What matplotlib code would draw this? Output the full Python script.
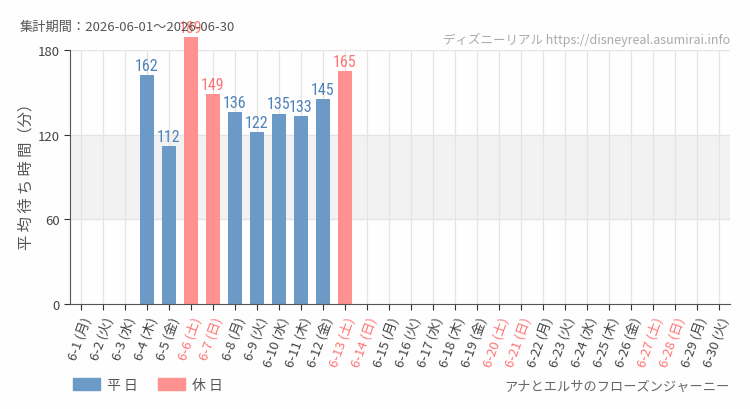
import numpy as np
import matplotlib
matplotlib.use("Agg")
from matplotlib import pyplot as plt
from matplotlib.patches import Patch
from matplotlib import font_manager

plt.rcParams['font.family'] = ['Noto Sans CJK JP', 'DejaVu Sans']

# data
days = list(range(1, 31))
weekdays = ['月', '火', '水', '木', '金', '土', '日']
waits = [None, None, None, 162, 112, 189, 149, 136, 122, 135, 133, 145, 165] + [None] * 17
holidays = [6, 7, 13, 14, 20, 21, 27, 28]
labels = ['6-%d (%s)' % (d, weekdays[(d - 1) % 7]) for d in days]

c_week = '#6b9ac6'
c_hol = '#ff9191'
c_week_txt = '#4f82b8'
c_hol_txt = '#ff7575'

names = {f.name for f in font_manager.fontManager.ttflist}
narrow = 'DejaVu Sans'
for cand in ['Roboto Condensed', 'Open Sans Condensed', 'Liberation Sans Narrow']:
    if cand in names:
        narrow = cand
        break

fig = plt.figure(figsize=(7.5, 4.1), dpi=100)
fig.patch.set_facecolor('#fdfefd')
ax = fig.add_axes([70 / 750, 1 - 305 / 410, 660 / 750, 254 / 410])
ax.set_facecolor('#fdfefd')

x = np.arange(len(days))
ax.axhspan(60, 120, color='#f2f2f2', zorder=0)
for i in x:
    ax.axvline(i, color='#e4e4e4', lw=0.9, zorder=0.5)
for v in [60, 120, 180]:
    ax.axhline(v, color='#e4e4e4', lw=0.9, zorder=0.5)

for i, (d, w) in enumerate(zip(days, waits)):
    if w is None:
        continue
    hol = d in holidays
    ax.bar(i, w, width=0.68, color=c_hol if hol else c_week, zorder=2, clip_on=False)
    ax.text(i, w + 1.5, str(w), ha='center', va='bottom', fontsize=11.5,
            color=c_hol_txt if hol else c_week_txt, family=[narrow],
            fontstretch='condensed', zorder=3)

ax.set_xlim(-0.5, len(days) - 0.5)
ax.set_ylim(0, 180)
ax.set_yticks([0, 60, 120, 180])
ax.set_xticks(x)
ax.set_xticklabels(labels, rotation=70, ha='right', va='top', rotation_mode='anchor', fontsize=9.5)
for t, d in zip(ax.get_xticklabels(), days):
    t.set_color(c_hol_txt if d in holidays else '#444444')
ax.tick_params(axis='x', length=4, color='#333333')
ax.tick_params(axis='y', length=4, color='#333333', labelsize=9.5, labelcolor='#444444')
for s in ['top', 'right']:
    ax.spines[s].set_visible(False)
ax.spines['left'].set_color('#555555')
ax.spines['bottom'].set_color('#555555')
ax.set_ylabel('平 均 待 ち 時 間（分）', fontsize=11, color='#555555', labelpad=5)
ax.yaxis.set_label_coords(-0.053, 0.52)

fig.text(20 / 750, 1 - 27 / 410, '集計期間：2026-06-01～2026-06-30', fontsize=9.5,
         color='#555555', va='center', ha='left')
fig.text(730 / 750, 1 - 40 / 410, 'ディズニーリアル https://disneyreal.asumirai.info', fontsize=9,
         color='#aaaaaa', va='center', ha='right', fontstretch='condensed')
fig.text(730 / 750, 1 - 387 / 410, 'アナとエルサのフローズンジャーニー', fontsize=9.5,
         color='#666666', va='center', ha='right')

handles = [Patch(color=c_week, label='平 日'), Patch(color=c_hol, label='休 日')]
fig.legend(handles=handles, loc='center left', bbox_to_anchor=(60 / 750, 1 - 386 / 410),
           ncol=2, frameon=False, fontsize=10, handlelength=2.0, handleheight=0.9,
           columnspacing=1.4, handletextpad=0.5, labelcolor='#555555')

fig.savefig('out.png', dpi=100, facecolor=fig.get_facecolor())
